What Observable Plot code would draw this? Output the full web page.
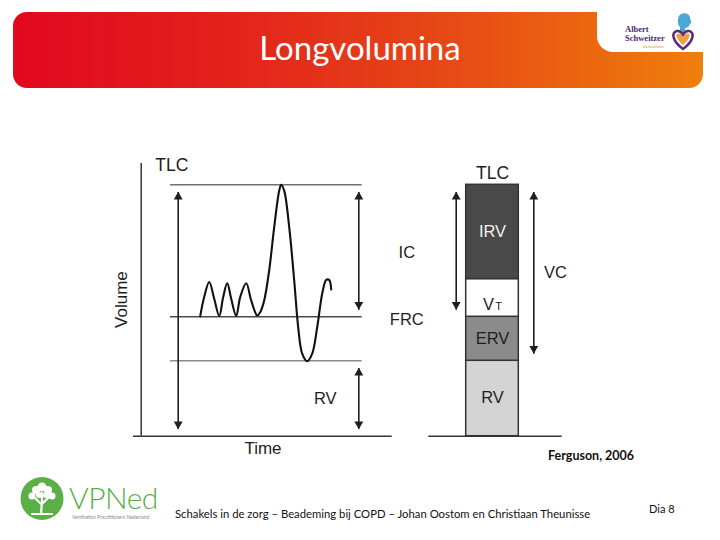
<!DOCTYPE html>
<html>
<head>
<meta charset="utf-8">
<script src="https://cdn.jsdelivr.net/npm/d3@7"></script>
<script src="https://cdn.jsdelivr.net/npm/@observablehq/plot@0.6"></script>
<style>
html, body { margin: 0; padding: 0; background: #fff; }
#page { position: relative; width: 720px; height: 540px; overflow: hidden; font-family: Lato, "Open Sans", sans-serif; }
#banner { position: absolute; left: 13px; top: 12px; width: 690px; height: 76px; border-radius: 14px;
  background: linear-gradient(to right, #e2081f 0%, #e3201c 30%, #e64816 62%, #ef7f0b 100%); }
#notch { position: absolute; left: 597px; top: 0; width: 123px; height: 52px; background: #fff; border-bottom-left-radius: 16px; }
#title { position: absolute; left: 0; width: 720px; top: 28px; line-height: 38px; text-align: center; color: #fff; font-size: 33px; }
#logoText { position: absolute; left: 625px; top: 25px; font-family: "Liberation Serif", serif; font-weight: bold; color: #4a2a70; font-size: 8.5px; line-height: 9px; }
#logoSub { position: absolute; left: 643px; top: 44px; font-size: 4.5px; color: #e98a2a; }
#heart { position: absolute; left: 668px; top: 12px; }
#chart { position: absolute; left: 0; top: 100px; }
#source { position: absolute; left: 548px; top: 448px; font-size: 12.5px; font-weight: bold; color: #111; white-space: nowrap; }
#vplogo { position: absolute; left: 18px; top: 474px; }
#vpned { position: absolute; left: 69px; top: 480px; font-size: 30px; font-weight: 300; color: #5aaf46; line-height: 34px; letter-spacing: -0.5px; }
#vpsub { position: absolute; left: 72px; top: 514px; font-size: 5px; color: #8a8a8a; white-space: nowrap; }
#footer { position: absolute; left: 175px; top: 507px; font-size: 11.3px; color: #111; white-space: nowrap; }
#dia { position: absolute; left: 649px; top: 502px; font-size: 11px; color: #111; }
</style>
</head>
<body>
<div id="page">
  <div id="banner"></div>
  <div id="notch"></div>
  <div id="title"></div>
  <div id="logoText">Albert<br>Schweitzer</div>
  <div id="logoSub">ziekenhuis</div>
  <svg id="heart" width="30" height="40" viewBox="0 0 30 40">
    <path d="M13 2 C 17 0, 22 2, 22 6 C 22 8, 24 9, 23 11 C 21 12, 22 14, 20 15 C 19 16, 17 15, 17 17 L 18 21 L 12 21 L 12 15 C 9 13, 9 4, 13 2 Z" fill="#4aa8d8"/>
    <path d="M15 37 C 4 29, 3 20, 9 19 C 12 18.5, 14 21, 15 23 C 16 21, 18 18.5, 21 19 C 27 20, 26 29, 15 37 Z" fill="none" stroke="#5b2b7a" stroke-width="2.5"/>
    <path d="M15 33 C 8 27, 7 22, 10 21.5 C 12.5 21, 14 23, 15 25 C 16 23, 17.5 21, 20 21.5 C 23 22, 22 27, 15 33 Z" fill="#f0a040"/>
  </svg>
  <div id="chart"></div>
  <div id="source"></div>
  <svg id="vplogo" width="50" height="50" viewBox="0 0 50 50">
    <circle cx="24" cy="24.5" r="21.5" fill="#5aaf46"/>
    <path d="M23 40 L 24 28 M24 31 L 17 24 M24 30 L 31 23 M24 28 L 24 18" stroke="#fff" stroke-width="2.2" fill="none"/>
    <g fill="#fff">
      <circle cx="14" cy="22" r="3.5"/><circle cx="18" cy="16" r="4"/><circle cx="24" cy="13" r="4.5"/>
      <circle cx="30" cy="16" r="4"/><circle cx="34" cy="22" r="3.5"/><circle cx="21" cy="21" r="3"/><circle cx="28" cy="21" r="3"/>
      <rect x="13" y="39" width="22" height="2"/>
    </g>
  </svg>
  <div id="vpned">VPNed</div>
  <div id="vpsub">Ventilation Practitioners Nederland</div>
  <div id="footer"></div>
  <div id="dia"></div>
</div>
<script>
// ---------------- data (schematic volumes, litres) ----------------
const componentNames   = ["RV", "ERV", "VT", "IRV"];
const componentVolumes = [1.8, 1.05, 0.9, 2.25];

// spirogram trace
const breathTime   = [5.9, 6.3, 6.8, 7.3, 7.8, 8.2, 8.6, 9.0, 9.5, 9.9, 10.5, 11.0, 11.6, 11.9, 12.3, 12.8, 13.3, 13.8, 14.0, 14.3, 14.8, 15.3, 15.7, 16.1, 16.6, 17.1, 17.6, 18.1, 18.5, 18.8, 19.0];
const breathVolume = [2.86, 3.32, 3.68, 3.28, 2.87, 3.32, 3.65, 3.28, 2.87, 3.32, 3.65, 3.24, 2.88, 2.96, 3.24, 3.96, 4.99, 5.86, 6.00, 5.86, 4.99, 3.72, 2.60, 1.97, 1.79, 1.97, 2.60, 3.40, 3.73, 3.73, 3.50];

const capacityNames = ["TLC", "FRC", "RV"];
const xLabel = "Time";
const yLabel = "Volume";
const titleText  = "Longvolumina";
const sourceText = "Ferguson, 2006";
const footerText = "Schakels in de zorg  –  Beademing bij COPD  –  Johan Oostom en Christiaan Theunisse";
const slideText  = "Dia 8";

// ---------------- derived values ----------------
const bottoms = componentVolumes.map((v, i) => d3.sum(componentVolumes.slice(0, i)));
const segments = componentNames.map((name, i) => ({name, y1: bottoms[i], y2: bottoms[i] + componentVolumes[i]}));
const vol = Object.fromEntries(segments.map(s => [s.name, s]));
const TLC = d3.sum(componentVolumes);
const FRC = vol.ERV.y2;
const RV  = vol.RV.y2;
const capacityValues = {TLC, FRC, RV};
const capacities = capacityNames.map(name => ({name, v: capacityValues[name]}));
const breath = breathTime.map((t, i) => ({t, v: breathVolume[i]}));

// ---------------- layout (positions along the time axis, in seconds) ----------------
const L = {
  axisTop: TLC + 0.51, baseLeft: [-0.77, 25.1], baseRight: [28.76, 42.1], refLine: [2.93, 22.1],
  tlcArrow: 3.7, icArrow: 21.76, bar: [32.5, 37.76], barIcArrow: 31.5, vcArrow: 39.26,
  tlcLabel: 3.06, icLabel: 26.56, rvLabel: 18.4, timeLabel: 12.18, volumeLabel: -1.95, vcLabel: 41.43
};
const inset = 0.17;
const barMid = (L.bar[0] + L.bar[1]) / 2;

const arrowSpans = [
  {x: L.tlcArrow,   from: 0,   to: TLC},
  {x: L.icArrow,    from: FRC, to: TLC},
  {x: L.icArrow,    from: 0,   to: RV},
  {x: L.barIcArrow, from: FRC, to: TLC},
  {x: L.vcArrow,    from: RV,  to: TLC}
].map(a => ({x: a.x, lo: a.from + inset, hi: a.to - inset}));

const fills = {RV: "#d4d4d4", ERV: "#8b8b8b", VT: "#ffffff", IRV: "#494949"};
const lineColor = {TLC: "#727272", FRC: "#4a4a4a", RV: "#8a8a8a"};
const ink = "#1e1e1e";
const fs = 16.5;

const labels = [
  {x: L.tlcLabel, y: TLC + 0.46, text: "TLC", size: 17.5},
  {x: L.icLabel, y: (FRC + TLC) / 2 - 0.05, text: "IC", size: fs},
  {x: L.icLabel, y: FRC - 0.06, text: "FRC", size: fs},
  {x: L.rvLabel, y: RV / 2, text: "RV", size: fs},
  {x: barMid, y: TLC + 0.28, text: "TLC", size: 17.5},
  {x: L.vcLabel, y: 3.89, text: "VC", size: fs},
  {x: barMid, y: (vol.ERV.y1 + vol.ERV.y2) / 2, text: "ERV", size: fs},
  {x: barMid, y: (vol.RV.y1 + vol.RV.y2) / 2 + 0.03, text: "RV", size: fs},
  {x: L.timeLabel, y: -0.30, text: xLabel, size: 17}
];

const vtMid = (vol.VT.y1 + vol.VT.y2) / 2;

const chart = Plot.plot({
  width: 720,
  height: 370,
  marginTop: 0, marginRight: 0, marginBottom: 0, marginLeft: 0,
  x: {type: "linear", domain: [0, 10], range: [140.7, 240.7], axis: null},
  y: {type: "linear", domain: [0, 6], range: [335.7, 84.3], axis: null},
  style: {fontFamily: "'Liberation Sans', Arial, sans-serif", background: "transparent", overflow: "visible"},
  marks: [
    // axes
    Plot.ruleX([0], {y1: 0, y2: L.axisTop, stroke: "#333", strokeWidth: 1.5}),
    Plot.ruleY([0], {x1: L.baseLeft[0], x2: L.baseLeft[1], stroke: "#333", strokeWidth: 1.5}),
    Plot.ruleY([0], {x1: L.baseRight[0], x2: L.baseRight[1], stroke: "#333", strokeWidth: 1.5}),
    // capacity reference lines
    Plot.ruleY(capacities, {y: "v", x1: L.refLine[0], x2: L.refLine[1], stroke: d => lineColor[d.name], strokeWidth: 1.4}),
    // spirogram
    Plot.line(breath, {x: "t", y: "v", curve: "catmull-rom", stroke: "#111", strokeWidth: 2.1}),
    // stacked volume bar
    Plot.rect(segments, {x1: L.bar[0], x2: L.bar[1], y1: "y1", y2: "y2", fill: d => fills[d.name], stroke: "#333", strokeWidth: 1.5}),
    // arrows
    Plot.link(arrowSpans, {x1: "x", x2: "x", y1: "lo", y2: "hi", stroke: ink, strokeWidth: 1.6}),
    Plot.dot(arrowSpans, {x: "x", y: "hi", symbol: "triangle", r: 3.3, fill: ink, stroke: null, dy: 5}),
    Plot.dot(arrowSpans, {x: "x", y: "lo", symbol: "triangle", r: 3.3, rotate: 180, fill: ink, stroke: null, dy: -5}),
    // labels
    Plot.text(labels, {x: "x", y: "y", text: "text", fontSize: d => d.size, fill: ink}),
    Plot.text([vol.IRV], {x: barMid, y: d => (d.y1 + d.y2) / 2, text: d => d.name, fontSize: fs, fill: "#f2f2f2"}),
    Plot.text([vtMid], {x: barMid, y: d => d, text: () => "V", fontSize: fs, fill: ink, lineAnchor: "bottom", dx: -4, dy: 12}),
    Plot.text([vtMid], {x: barMid, y: d => d, text: () => "T", fontSize: 11, fill: ink, lineAnchor: "bottom", dx: 6, dy: 12}),
    Plot.text([yLabel], {x: L.volumeLabel, y: 3.26, text: d => d, rotate: -90, fontSize: 17, fill: ink})
  ]
});
document.getElementById("chart").appendChild(chart);
document.getElementById("title").textContent = titleText;
document.getElementById("source").textContent = sourceText;
document.getElementById("footer").textContent = footerText;
document.getElementById("dia").textContent = slideText;
</script>
</body>
</html>
